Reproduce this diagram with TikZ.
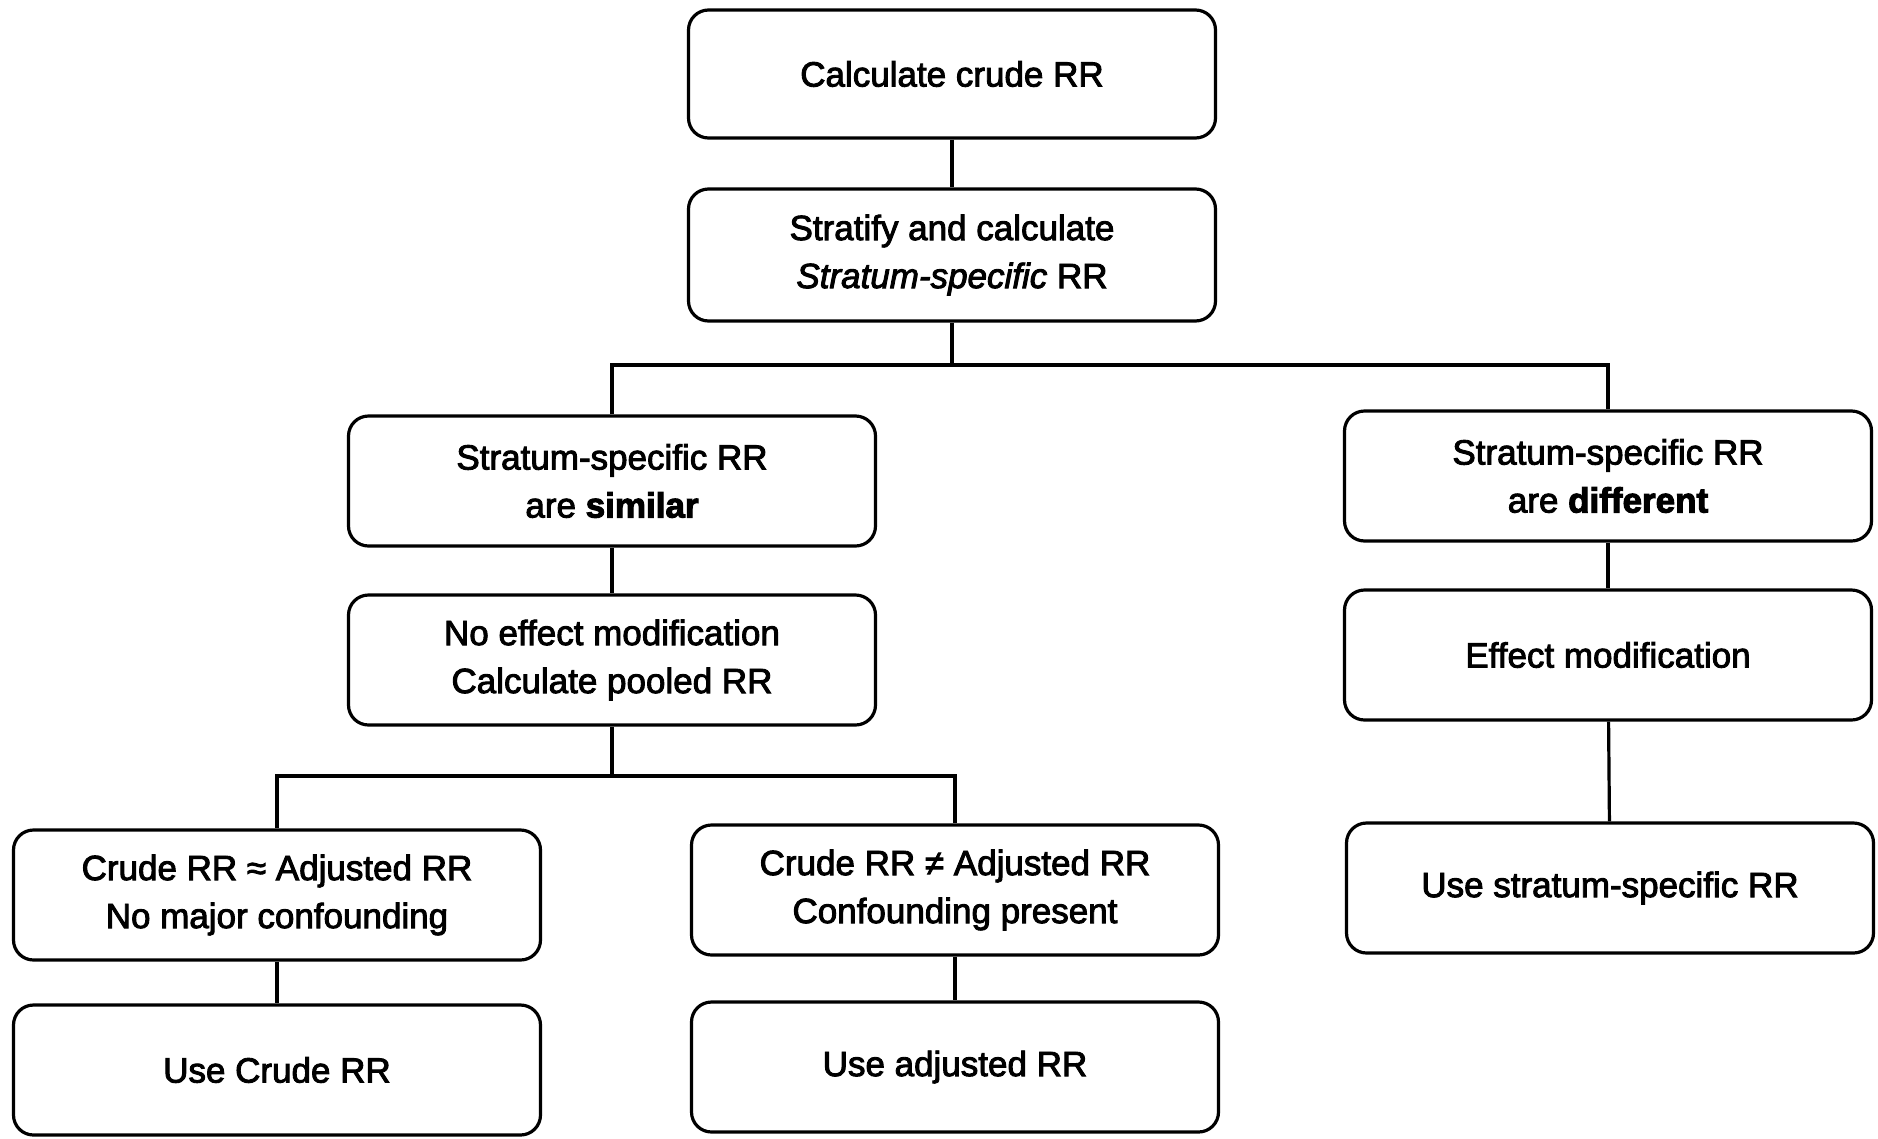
\documentclass[tikz,border=0pt]{standalone}
\usepackage{fontspec}
\setmainfont{Liberation Sans}[
  UprightFeatures={FakeBold=2.6},
  ItalicFeatures={FakeBold=2.6},
  BoldFeatures={FakeBold=3}]
\begin{document}
\begin{tikzpicture}[x=1pt,y=-1pt,
  box/.style={draw, line width=3.2pt, rounded corners=20pt,
    minimum width=527pt, minimum height=130pt, inner sep=0pt,
    align=center, font=\fontsize{35}{48}\selectfont},
  link/.style={line width=3.2pt}]
\useasboundingbox[fill=white] (0,0) rectangle (1878,1138);

% top of the chart
\node[box, minimum height=128pt] (b1) at (952,74) {Calculate crude RR};
\node[box, minimum height=132pt] (b2) at (952,255) {Stratify and calculate\\\textit{Stratum-specific} RR};

% two branches
\node[box] (b3l) at (612,481) {Stratum-specific RR\\are \textbf{similar}};
\node[box] (b3r) at (1608,476) {Stratum-specific RR\\are \textbf{different}};
\node[box] (b4l) at (612,660) {No effect modification\\Calculate pooled RR};
\node[box] (b4r) at (1608,655) {Effect modification};

% bottom level
\node[box] (b5l) at (277,895) {Crude RR ≈ Adjusted RR\\No major confounding};
\node[box] (b5m) at (955,890) {Crude RR ≠ Adjusted RR\\Confounding present};
\node[box] (b5r) at (1610,888) {Use stratum-specific RR};
\node[box] (b6l) at (277,1070) {Use Crude RR};
\node[box] (b6m) at (955,1067) {Use adjusted RR};

% junction points
\coordinate (j1) at (952,365);
\coordinate (j2) at (612,776);

% connectors
\draw[link] (b1) -- (b2);
\draw[link] (b2.south) -- (j1);
\draw[link] (b3l.north) |- (j1) -| (b3r.north);
\draw[link] (b3l) -- (b4l);
\draw[link] (b3r) -- (b4r);
\draw[link] (b4r) -- (b5r);
\draw[link] (b4l.south) -- (j2);
\draw[link] (b5l.north) |- (j2) -| (b5m.north);
\draw[link] (b5l) -- (b6l);
\draw[link] (b5m) -- (b6m);
\end{tikzpicture}
\end{document}
